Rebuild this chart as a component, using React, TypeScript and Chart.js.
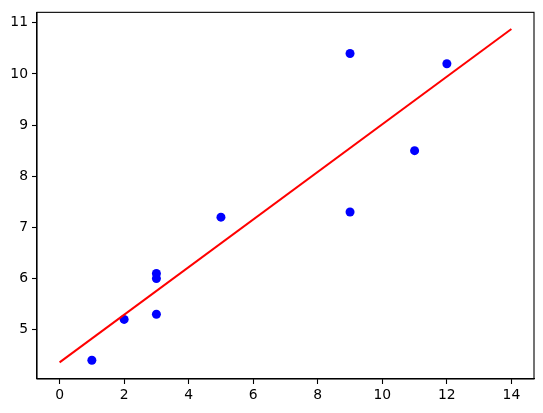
import React, { useEffect, useRef } from "react";
import { Chart, registerables } from "chart.js";

Chart.register(...registerables);

const pointX = [1, 2, 3, 3, 3, 5, 9, 9, 11, 12];
const pointY = [4.4, 5.2, 5.3, 6.0, 6.1, 7.2, 10.4, 7.3, 8.5, 10.2];
const lineX = [0, 14];
const lineY = [4.36, 10.88];
const xTicks = [0, 2, 4, 6, 8, 10, 12, 14];
const yTicks = [5, 6, 7, 8, 9, 10, 11];

export default function App() {
  const ref = useRef<HTMLCanvasElement>(null);
  useEffect(() => {
    const frame = {
      id: "frame",
      afterDatasetsDraw(chart: any) {
        const { ctx, chartArea } = chart;
        ctx.save();
        ctx.strokeStyle = "#000";
        ctx.lineWidth = 1.1;
        ctx.strokeRect(chartArea.left, chartArea.top, chartArea.right - chartArea.left, chartArea.bottom - chartArea.top);
        ctx.restore();
      },
    };
    const font = { family: "DejaVu Sans", size: 13.9 };
    const chart = new Chart(ref.current!, {
      type: "scatter",
      data: {
        datasets: [
          {
            type: "scatter",
            data: pointX.map((x, i) => ({ x, y: pointY[i] })),
            backgroundColor: "#0000ff",
            borderWidth: 0,
            pointRadius: 4.5,
            order: 2,
          },
          {
            type: "line",
            data: lineX.map((x, i) => ({ x, y: lineY[i] })),
            borderColor: "#ff0000",
            borderWidth: 2,
            pointRadius: 0,
            fill: false,
            order: 1,
          } as any,
        ],
      },
      options: {
        animation: false,
        responsive: false,
        layout: { padding: { top: 10, right: 9, left: 0, bottom: 0 } },
        plugins: { legend: { display: false }, tooltip: { enabled: false } },
        scales: {
          x: {
            type: "linear",
            min: -0.7,
            max: 14.7,
            afterBuildTicks: (s: any) => {
              s.ticks = xTicks.map((v) => ({ value: v }));
            },
            afterFit: (s: any) => {
              s.height = 34;
            },
            grid: { drawOnChartArea: false, drawTicks: true, tickLength: 5, tickWidth: 1.1, color: "#000" },
            border: { display: true, color: "#000", width: 1.1 },
            ticks: { color: "#000", font, padding: 3, maxRotation: 0, autoSkip: false },
          },
          y: {
            type: "linear",
            min: 4.034,
            max: 11.206,
            afterBuildTicks: (s: any) => {
              s.ticks = yTicks.map((v) => ({ value: v }));
            },
            afterFit: (s: any) => {
              s.width = 37;
            },
            grid: { drawOnChartArea: false, drawTicks: true, tickLength: 5, tickWidth: 1.1, color: "#000" },
            border: { display: true, color: "#000", width: 1.1 },
            ticks: { color: "#000", font, padding: 4, autoSkip: false },
          },
        },
      },
      plugins: [frame],
    });
    return () => chart.destroy();
  }, []);
  return (
    <div style={{ position: "fixed", left: 0, top: 0, width: 543, height: 413, background: "#fff" }}>
      <canvas ref={ref} width={543} height={413} style={{ display: "block" }} />
    </div>
  );
}
